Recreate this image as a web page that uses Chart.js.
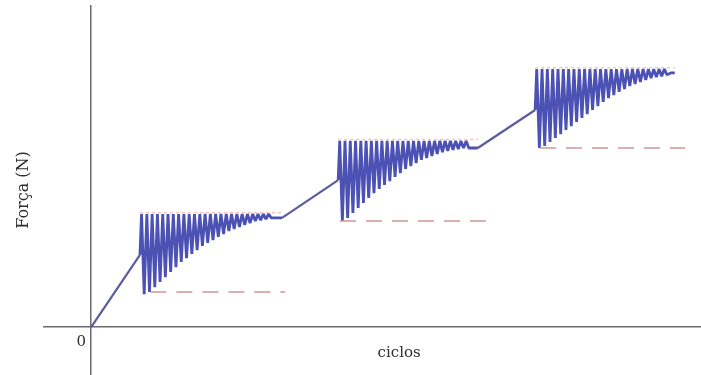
<!DOCTYPE html>
<html>
<head>
<meta charset="utf-8">
<script src="https://cdn.jsdelivr.net/npm/chart.js@4.4.0/dist/chart.umd.min.js"></script>
<style>
  html, body { margin: 0; padding: 0; background: #fff; }
  #wrap { width: 701px; height: 375px; }
</style>
</head>
<body>
<div id="wrap"><canvas id="forca-chart"></canvas></div>
<script>
// ---- data (x = ciclos, y = força, arbitrary units) ----
const cycleStart   = [8.0, 40.5, 72.8];   // end of each ramp / first spike
const cycleEnd     = [29.7, 62.1, 94.6];  // last spike
const plateauEnd   = [31.3, 63.4, 95.7];  // end of settled level
const rampTop      = [22.4, 45.6, 67.4];
const peakLevel    = [35.1, 57.8, 80.1];
const settleLevel  = [33.9, 55.6, 78.9];

const troughs1 = [10.2, 10.9, 12.4, 14.0, 15.5, 17.1, 18.6, 20.2, 21.4, 22.7, 23.9, 25.2, 26.1,
                  27.0, 28.0, 28.9, 29.8, 30.4, 31.1, 31.7, 32.3, 32.9, 33.2, 33.5, 33.9];
const troughs2 = [32.9, 33.9, 35.4, 37.0, 38.5, 40.1, 41.6, 42.9, 44.1, 45.3, 46.6, 47.8, 49.1,
                  50.0, 50.9, 51.9, 52.5, 53.1, 53.7, 54.3, 54.7, 55.0, 55.3, 55.6, 55.6];
const troughs3 = [55.6, 56.2, 57.5, 58.7, 59.9, 61.2, 62.4, 63.7, 64.9, 66.1, 67.4, 68.6, 69.9,
                  71.1, 72.0, 73.0, 73.9, 74.8, 75.5, 76.1, 76.7, 77.3, 77.6, 77.9, 78.3];
const troughs = [troughs1, troughs2, troughs3];

// dashed reference lines (minimum force of each block)
const floorLevel = [10.9, 32.9, 55.6];
const floorFrom  = [9.7, 40.8, 73.6];
const floorTo    = [31.8, 65.4, 97.4];

// ---- build the force curve ----
var curve = [{x: 0, y: 0}];
for (var s = 0; s < 3; s++) {
  curve.push({x: cycleStart[s], y: rampTop[s]});
  var n = troughs[s].length;
  var dx = (cycleEnd[s] - cycleStart[s]) / n;
  for (var i = 0; i < n; i++) {
    var x0 = cycleStart[s] + i * dx;
    curve.push({x: x0 + dx * 0.3, y: peakLevel[s]});
    curve.push({x: x0 + dx * 0.8, y: troughs[s][i]});
  }
  curve.push({x: cycleEnd[s] + dx * 0.5, y: settleLevel[s]});
  curve.push({x: plateauEnd[s], y: settleLevel[s]});
}

var dashSets = [];
for (var k = 0; k < 3; k++) {
  dashSets.push({
    data: [{x: floorFrom[k], y: floorLevel[k]}, {x: floorTo[k], y: floorLevel[k]}],
    borderColor: 'rgba(205,150,150,0.75)',
    borderWidth: 2,
    borderDash: [16, 10],
    pointRadius: 0
  });
  dashSets.push({
    data: [{x: cycleStart[k], y: peakLevel[k] + 0.4}, {x: plateauEnd[k], y: peakLevel[k] + 0.4}],
    borderColor: 'rgba(235,150,140,0.55)',
    borderWidth: 1.5,
    borderDash: [3, 3],
    pointRadius: 0
  });
}

// ramps between blocks are a bit greyer and thinner
function isRamp(ctx) {
  return ctx.p1.parsed.x - ctx.p0.parsed.x > 3;
}

// text that sits next to the axes
const axisText = {
  id: 'axisText',
  afterDraw: function(chart) {
    var c = chart.ctx, xs = chart.scales.x, ys = chart.scales.y;
    c.save();
    c.fillStyle = '#2e2e2e';
    c.font = '15px "DejaVu Serif", serif';
    c.textAlign = 'center';
    c.textBaseline = 'middle';
    c.fillText('0', xs.getPixelForValue(0) - 10, ys.getPixelForValue(0) + 15);
    c.fillText('ciclos', xs.getPixelForValue(50.5), ys.getPixelForValue(0) + 26);
    c.restore();
  }
};

const ctx_forca = document.getElementById('forca-chart');
new Chart(ctx_forca, {
  type: 'line',
  data: {
    datasets: dashSets.concat([{
      data: curve,
      borderColor: '#4c51b4',
      borderWidth: 2.8,
      borderJoinStyle: 'bevel',
      pointRadius: 0,
      tension: 0,
      segment: {
        borderColor: function(ctx) { return isRamp(ctx) ? '#5a5c9e' : undefined; },
        borderWidth: function(ctx) { return isRamp(ctx) ? 2.2 : undefined; }
      }
    }])
  },
  options: {
    responsive: true,
    maintainAspectRatio: false,
    animation: false,
    layout: { padding: { top: 5, right: 0, bottom: 0, left: 0 } },
    plugins: {
      legend: { display: false },
      tooltip: { enabled: false }
    },
    scales: {
      x: {
        type: 'linear',
        min: -7.9,
        max: 100,
        afterBuildTicks: function(axis) { axis.ticks = [{value: 0}]; },
        afterFit: function(axis) { axis.height = 0; },
        ticks: { display: false },
        border: { display: false },
        grid: { color: '#6a6a6a', lineWidth: 1.5, drawTicks: false }
      },
      y: {
        type: 'linear',
        min: -14.9,
        max: 100,
        afterBuildTicks: function(axis) { axis.ticks = [{value: 0}]; },
        afterFit: function(axis) { axis.width = 43; },
        ticks: { display: false },
        border: { display: false },
        grid: { color: '#6a6a6a', lineWidth: 1.5, drawTicks: false },
        title: {
          display: true,
          text: 'Força (N)',
          color: '#2e2e2e',
          font: { family: '"DejaVu Serif", serif', size: 16 },
          padding: { top: 14, bottom: 0 }
        }
      }
    }
  },
  plugins: [axisText]
});
</script>
</body>
</html>
